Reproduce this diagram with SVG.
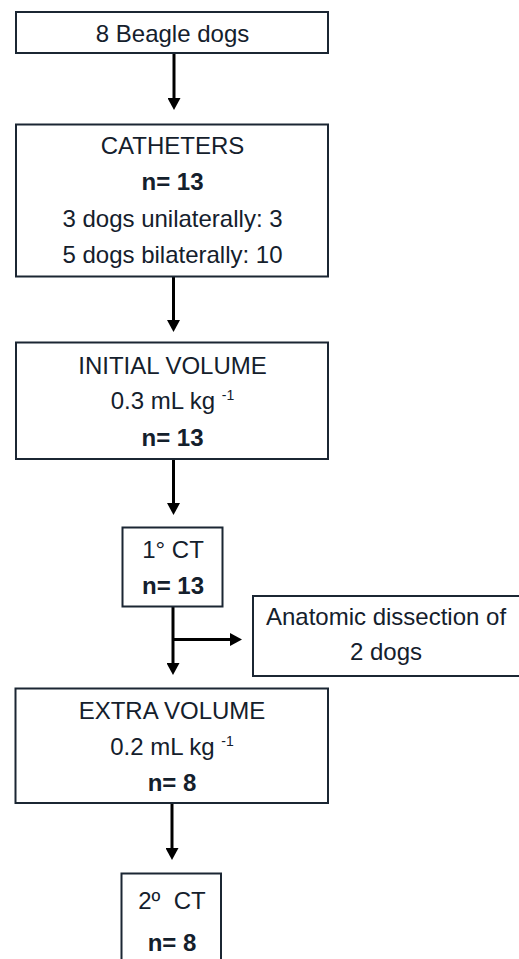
<svg xmlns="http://www.w3.org/2000/svg" width="519" height="959" viewBox="0 0 519 959">
<style>
.box{fill:#ffffff;stroke:#1b2633;stroke-width:2}
.t{font-family:"Liberation Sans",Arial,sans-serif;font-size:24px;fill:#14202c;text-anchor:middle}
.b{font-weight:bold}
.sup{font-size:14px}
.c{fill:none;stroke:#000000;stroke-width:3}
</style>
<defs>
<marker id="ah" viewBox="0 0 12 13" refX="4" refY="6.5" markerWidth="12" markerHeight="13" markerUnits="userSpaceOnUse" orient="auto">
<path d="M0,0 L12,6.5 L0,13 Z" fill="#000000"/>
</marker>
</defs>
<rect width="519" height="959" fill="#ffffff"/>
<g id="connectors">
<line class="c" x1="174" y1="54" x2="174" y2="102" marker-end="url(#ah)"/>
<line class="c" x1="173.5" y1="277" x2="173.5" y2="324" marker-end="url(#ah)"/>
<line class="c" x1="173.5" y1="459" x2="173.5" y2="507" marker-end="url(#ah)"/>
<line class="c" x1="173" y1="607" x2="173" y2="667" marker-end="url(#ah)"/>
<line class="c" x1="173" y1="639.5" x2="234" y2="639.5" marker-end="url(#ah)"/>
<line class="c" x1="172" y1="803" x2="172" y2="852" marker-end="url(#ah)"/>
</g>
<g id="beagle">
<rect class="box" x="16" y="12" width="312" height="41"/>
<text class="t" x="172.5" y="41.5">8 Beagle dogs</text>
</g>
<g id="catheters">
<rect class="box" x="16" y="124.5" width="312" height="152"/>
<text class="t" x="172.5" y="154">CATHETERS</text>
<text class="t b" x="172.5" y="190">n= 13</text>
<text class="t" x="172.5" y="226.5">3 dogs unilaterally: 3</text>
<text class="t" x="172.5" y="263">5 dogs bilaterally: 10</text>
</g>
<g id="initial">
<rect class="box" x="16" y="342.5" width="312" height="116.5"/>
<text class="t" x="172.5" y="374">INITIAL VOLUME</text>
<text class="t" x="172.5" y="409">0.3 mL kg <tspan class="sup" dy="-9">-1</tspan></text>
<text class="t b" x="172.5" y="445.5">n= 13</text>
</g>
<g id="ct1">
<rect class="box" x="122.5" y="527.5" width="100" height="79"/>
<text class="t" x="173" y="558">1° CT</text>
<text class="t b" x="173" y="594">n= 13</text>
</g>
<g id="dissection">
<rect class="box" x="253" y="596" width="270" height="80"/>
<text class="t" x="386" y="625">Anatomic dissection of</text>
<text class="t" x="386" y="660">2 dogs</text>
</g>
<g id="extra">
<rect class="box" x="15.5" y="688.5" width="312.5" height="114.5"/>
<text class="t" x="172" y="719">EXTRA VOLUME</text>
<text class="t" x="172" y="755">0.2 mL kg <tspan class="sup" dy="-9">-1</tspan></text>
<text class="t b" x="172" y="790.5">n= 8</text>
</g>
<g id="ct2">
<rect class="box" x="121.5" y="873.5" width="99.5" height="100"/>
<text class="t" x="172" y="909" style="white-space:pre" xml:space="preserve">2º  CT</text>
<text class="t b" x="172" y="950.5">n= 8</text>
</g>
</svg>
